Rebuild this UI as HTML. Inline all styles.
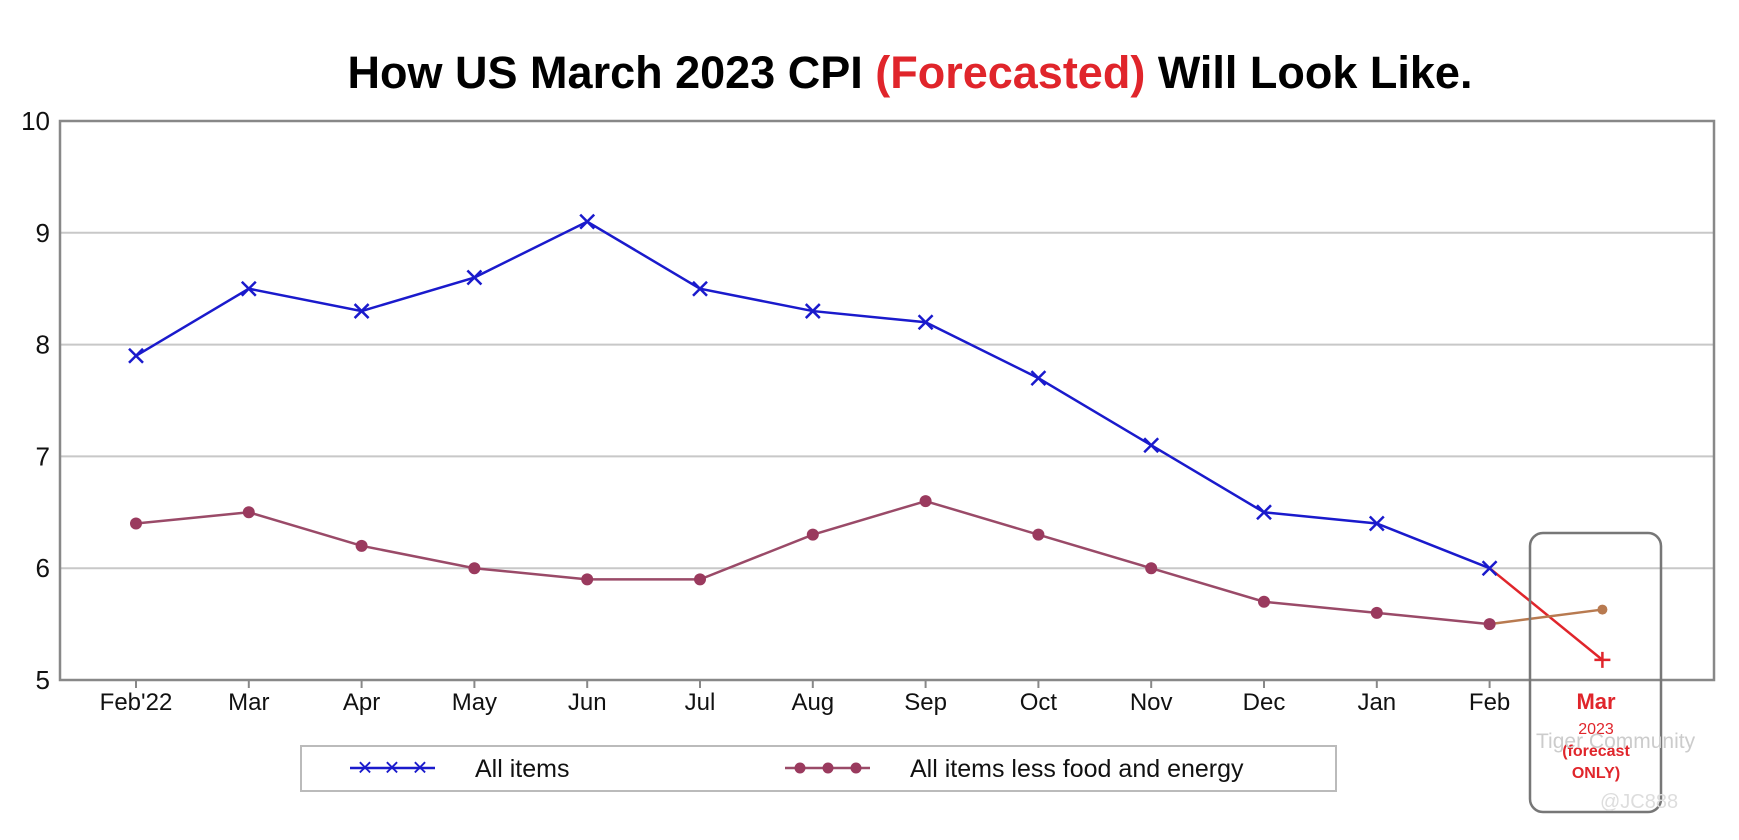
<!DOCTYPE html>
<html><head><meta charset="utf-8"><style>
body{margin:0;background:#fff;width:1739px;height:835px;overflow:hidden;font-family:"Liberation Sans",sans-serif}
</style></head><body>
<svg id="chart" width="1739" height="835" xmlns="http://www.w3.org/2000/svg" font-family="Liberation Sans, sans-serif">
<text x="910" y="88" text-anchor="middle" font-size="45" font-weight="bold" fill="#000">How US March 2023 CPI <tspan fill="#e0252b">(Forecasted)</tspan> Will Look Like.</text>
<g id="grid"></g>
<rect x="60" y="121" width="1654" height="559" fill="none" stroke="#888" stroke-width="2.5"/>
<g id="marks"></g>
<rect x="1530" y="533" width="131" height="279" rx="13" fill="none" stroke="#777" stroke-width="2.5"/>
<g>
<rect x="301" y="746" width="1035" height="45" fill="#fff" stroke="#bbb" stroke-width="2"/>
<line x1="350" y1="768" x2="435" y2="768" stroke="#1a1acc" stroke-width="2.5"/>
<text x="365" y="776" font-size="26" fill="#1a1acc" text-anchor="middle">×</text>
<text x="392" y="776" font-size="26" fill="#1a1acc" text-anchor="middle">×</text>
<text x="420" y="776" font-size="26" fill="#1a1acc" text-anchor="middle">×</text>
<text x="475" y="777" font-size="25" fill="#111">All items</text>
<line x1="785" y1="768" x2="870" y2="768" stroke="#9a4a68" stroke-width="2.5"/>
<circle cx="800" cy="768" r="5.5" fill="#9a3a5e"/><circle cx="828" cy="768" r="5.5" fill="#9a3a5e"/><circle cx="856" cy="768" r="5.5" fill="#9a3a5e"/>
<text x="910" y="777" font-size="25" fill="#111">All items less food and energy</text>
</g>
<text x="1596" y="709" text-anchor="middle" font-size="22" font-weight="bold" fill="#e0252b">Mar</text>
<text x="1596" y="734" text-anchor="middle" font-size="16" fill="#e0252b">2023</text>
<text x="1596" y="756" text-anchor="middle" font-size="16" font-weight="bold" fill="#e0252b">(forecast</text>
<text x="1596" y="778" text-anchor="middle" font-size="16" font-weight="bold" fill="#e0252b">ONLY)</text>
<text x="1536" y="748" font-size="21" fill="#ccc">Tiger Community</text>
<text x="1600" y="808" font-size="20" fill="#ddd">@JC888</text>
</svg>
<script>
const categories=["Feb'22","Mar","Apr","May","Jun","Jul","Aug","Sep","Oct","Nov","Dec","Jan","Feb"];
const allItems=[7.9,8.5,8.3,8.6,9.1,8.5,8.3,8.2,7.7,7.1,6.5,6.4,6.0];
const coreItems=[6.4,6.5,6.2,6.0,5.9,5.9,6.3,6.6,6.3,6.0,5.7,5.6,5.5];
const forecastAll=[5.18];
const forecastCore=[5.63];
const yTicks=[5,6,7,8,9,10];
const NS="http://www.w3.org/2000/svg";
const x=i=>136+i*112.8;
const y=v=>680-(v-5)*111.8;
function mk(tag,attrs,parent){const e=document.createElementNS(NS,tag);for(const k in attrs)e.setAttribute(k,attrs[k]);parent.appendChild(e);return e;}
const grid=document.getElementById('grid'),marks=document.getElementById('marks');
yTicks.forEach(t=>{
 const l=mk('line',{x1:60,x2:1714,y1:y(t),y2:y(t),stroke:'#c8c8c8','stroke-width':2},grid);
 
 
 const tx=mk('text',{x:50,y:y(t)+9,'text-anchor':'end','font-size':26,fill:'#111'},grid);
 tx.textContent=t;
 
 
});
categories.forEach((c,i)=>{
 mk('line',{x1:x(i),x2:x(i),y1:680,y2:688,stroke:'#888','stroke-width':2},grid);
 const tx=mk('text',{x:x(i),y:710,'text-anchor':'middle','font-size':24,fill:'#111'},grid);
 tx.textContent=c;
 
 
});
const n=categories.length;
const f1=mk('line',{x1:x(n-1),y1:y(allItems[n-1]),x2:x(n),y2:y(forecastAll[0]),stroke:'#e0252b','stroke-width':2.5},marks);


const f2=mk('line',{x1:x(n-1),y1:y(coreItems[n-1]),x2:x(n),y2:y(forecastCore[0]),stroke:'#b87a50','stroke-width':2.5},marks);


const p1=mk('polyline',{points:allItems.map((v,i)=>x(i)+','+y(v)).join(' '),fill:'none',stroke:'#1a1acc','stroke-width':2.5},marks);


const p2=mk('polyline',{points:coreItems.map((v,i)=>x(i)+','+y(v)).join(' '),fill:'none',stroke:'#9a4a68','stroke-width':2.5},marks);


allItems.forEach((v,i)=>{
 const g=mk('path',{d:`M${x(i)-7},${y(v)-7}L${x(i)+7},${y(v)+7}M${x(i)-7},${y(v)+7}L${x(i)+7},${y(v)-7}`,stroke:'#1a1acc','stroke-width':2.5},marks);
 
 
});
coreItems.forEach((v,i)=>{
 const c=mk('circle',{cx:x(i),cy:y(v),r:6,fill:'#9a3a5e'},marks);
 
 
});
const fa=mk('path',{d:`M${x(n)-8},${y(forecastAll[0])}L${x(n)+8},${y(forecastAll[0])}M${x(n)},${y(forecastAll[0])-8}L${x(n)},${y(forecastAll[0])+8}`,stroke:'#e0252b','stroke-width':2.5},marks);


const fc=mk('circle',{cx:x(n),cy:y(forecastCore[0]),r:5,fill:'#b87a50'},marks);


</script>
</body></html>
